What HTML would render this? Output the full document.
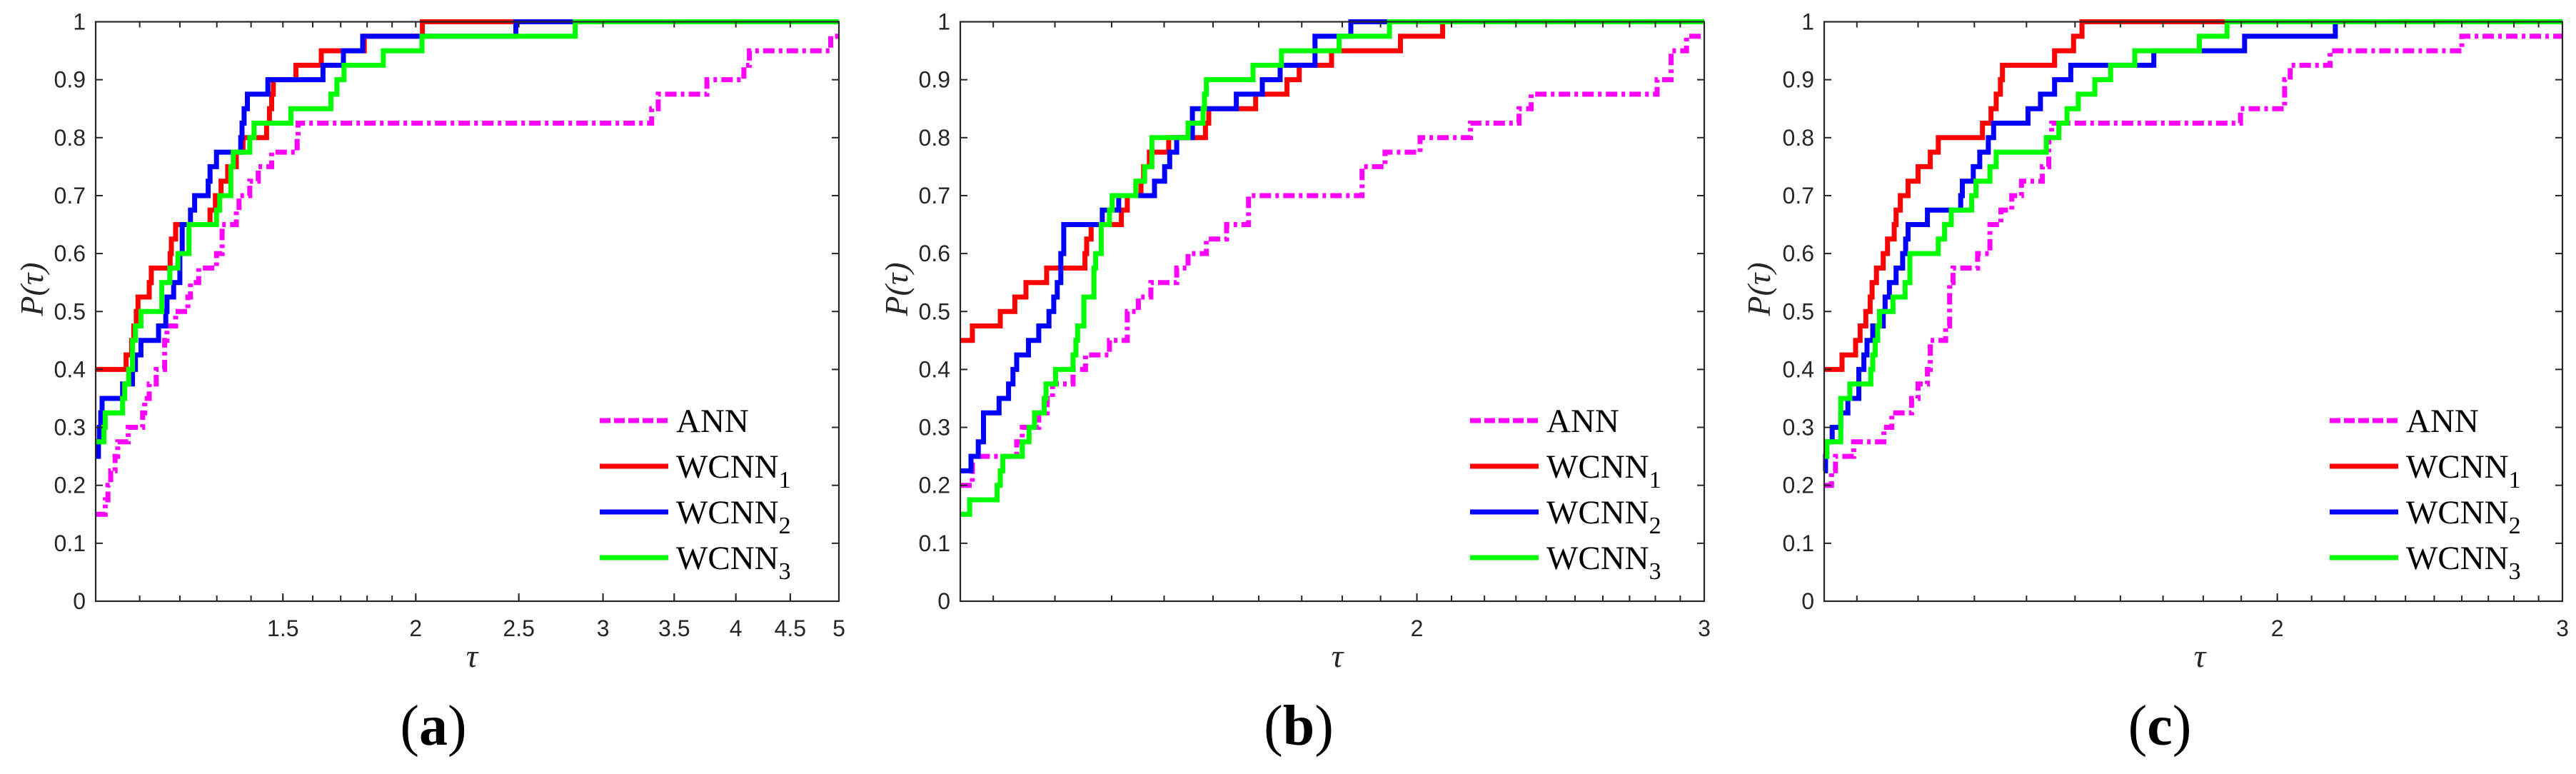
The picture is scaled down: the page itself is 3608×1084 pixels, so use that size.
<!DOCTYPE html>
<html><head><meta charset="utf-8">
<style>
html,body{margin:0;padding:0;background:#fff;}
svg{display:block;}
.tick{font-family:"Liberation Sans",sans-serif;font-size:32px;fill:#262626;}
.leg{font-family:"Liberation Serif",serif;font-size:47px;fill:#000;}
.lab{font-family:"Liberation Serif",serif;font-size:46px;font-style:italic;fill:#262626;}
.cap{font-family:"Liberation Serif",serif;font-size:80px;fill:#000;}
</style></head>
<body>
<svg id="fig" width="3608" height="1084" viewBox="0 0 3608 1084" xmlns="http://www.w3.org/2000/svg"></svg>
<script>
// ---- Panel (a) data ----
const aTauAnn=[1,1.021,1.027,1.033,1.043,1.049,1.073,1.107,1.112,1.123,1.140,1.161,1.167,1.189,1.221,1.228,1.250,1.299,1.315,1.356,1.364,1.396,1.422,1.464,1.547,1.550,3.333,3.381,3.757,4.070,4.119,4.912];
const aPAnn=[0.15,0.175,0.2,0.225,0.25,0.275,0.3,0.325,0.35,0.375,0.4,0.45,0.475,0.5,0.525,0.55,0.575,0.6,0.65,0.675,0.7,0.725,0.75,0.775,0.8,0.825,0.85,0.875,0.9,0.925,0.95,0.975];
const aTauW1=[1,1.068,1.081,1.086,1.092,1.096,1.123,1.128,1.175,1.178,1.189,1.281,1.296,1.312,1.331,1.356,1.376,1.448,1.457,1.464,1.469,1.543,1.630,1.789,2.029];
const aPW1=[0.4,0.425,0.45,0.475,0.5,0.525,0.55,0.575,0.6,0.625,0.65,0.675,0.7,0.725,0.75,0.775,0.8,0.825,0.85,0.875,0.9,0.925,0.95,0.975,1.0];
const aTauW2=[1,1.006,1.008,1.011,1.014,1.060,1.083,1.090,1.103,1.146,1.164,1.167,1.184,1.200,1.206,1.228,1.239,1.276,1.281,1.299,1.369,1.373,1.379,1.389,1.452,1.636,1.710,1.783,2.484];
const aPW2=[0.25,0.275,0.3,0.325,0.35,0.375,0.4,0.425,0.45,0.475,0.5,0.525,0.55,0.6,0.65,0.675,0.7,0.725,0.75,0.775,0.8,0.825,0.85,0.875,0.9,0.925,0.95,0.975,1.0];
const aTauW3=[1,1.018,1.021,1.060,1.065,1.074,1.083,1.090,1.103,1.154,1.174,1.195,1.224,1.299,1.308,1.340,1.347,1.396,1.409,1.526,1.664,1.686,1.712,1.864,2.027,2.825];
const aPW3=[0.275,0.3,0.325,0.35,0.375,0.4,0.45,0.475,0.5,0.55,0.575,0.6,0.65,0.675,0.7,0.75,0.775,0.8,0.825,0.85,0.875,0.9,0.925,0.95,0.975,1.0];
const aXTicks=[1.5,2,2.5,3,3.5,4,4.5,5];
const aXTickLabels=["1.5","2","2.5","3","3.5","4","4.5","5"];
// ---- Panel (b) data ----
const bTauAnn=[1.05,1.068,1.137,1.146,1.173,1.187,1.196,1.231,1.253,1.296,1.329,1.350,1.374,1.425,1.448,1.486,1.529,1.577,1.851,1.912,2.009,2.157,2.310,2.350,2.807,2.863,2.926];
const bPAnn=[0.2,0.25,0.275,0.3,0.325,0.35,0.375,0.4,0.425,0.45,0.5,0.525,0.55,0.575,0.6,0.625,0.65,0.7,0.75,0.775,0.8,0.825,0.85,0.875,0.9,0.95,0.975];
const bTauW1=[1.05,1.068,1.111,1.134,1.152,1.186,1.252,1.255,1.263,1.318,1.329,1.355,1.360,1.371,1.409,1.484,1.491,1.593,1.665,1.694,1.773,1.954,2.074];
const bPW1=[0.45,0.475,0.5,0.525,0.55,0.575,0.6,0.625,0.65,0.675,0.7,0.725,0.75,0.775,0.8,0.825,0.85,0.875,0.9,0.925,0.95,0.975,1.0];
const bTauW2=[1.05,1.066,1.077,1.085,1.109,1.124,1.131,1.137,1.156,1.173,1.190,1.198,1.204,1.210,1.215,1.283,1.313,1.381,1.401,1.411,1.425,1.457,1.550,1.608,1.649,1.732,1.822];
const bPW2=[0.225,0.25,0.275,0.325,0.35,0.375,0.4,0.425,0.45,0.475,0.5,0.525,0.55,0.6,0.65,0.675,0.7,0.725,0.75,0.775,0.8,0.85,0.875,0.9,0.925,0.975,1.0];
const bTauW3=[1.05,1.064,1.106,1.111,1.115,1.146,1.157,1.166,1.182,1.185,1.201,1.231,1.236,1.239,1.250,1.268,1.271,1.281,1.296,1.301,1.345,1.362,1.376,1.448,1.479,1.482,1.486,1.587,1.652,1.792,1.924];
const bPW3=[0.15,0.175,0.2,0.225,0.25,0.275,0.3,0.325,0.35,0.375,0.4,0.425,0.45,0.475,0.525,0.575,0.6,0.65,0.675,0.7,0.725,0.75,0.8,0.825,0.85,0.875,0.9,0.925,0.95,0.975,1.0];
const bXTicks=[2,3];
const bXTickLabels=["2","3"];
// ---- Panel (c) data ----
const cTauAnn=[1.05,1.061,1.067,1.095,1.143,1.156,1.189,1.200,1.216,1.221,1.248,1.255,1.261,1.306,1.329,1.350,1.371,1.390,1.432,1.445,1.451,1.898,2.021,2.037,2.156,2.600];
const cPAnn=[0.2,0.225,0.25,0.275,0.3,0.325,0.35,0.375,0.4,0.45,0.475,0.55,0.575,0.6,0.65,0.675,0.7,0.725,0.75,0.8,0.825,0.85,0.9,0.925,0.95,0.975];
const cTauW1=[1.05,1.077,1.098,1.105,1.114,1.121,1.124,1.131,1.142,1.149,1.160,1.163,1.170,1.183,1.200,1.221,1.235,1.315,1.331,1.341,1.349,1.353,1.457,1.497,1.515];
const cPW1=[0.4,0.425,0.45,0.475,0.5,0.525,0.55,0.575,0.6,0.625,0.65,0.675,0.7,0.725,0.75,0.775,0.8,0.825,0.85,0.875,0.9,0.925,0.95,0.975,1.0];
const cTauW2=[1.05,1.052,1.054,1.062,1.075,1.086,1.103,1.111,1.116,1.125,1.142,1.145,1.152,1.163,1.174,1.179,1.183,1.216,1.275,1.278,1.298,1.310,1.326,1.336,1.403,1.428,1.457,1.491,1.678,1.909,2.172];
const cPW2=[0.225,0.25,0.275,0.3,0.325,0.35,0.4,0.425,0.45,0.475,0.5,0.525,0.55,0.575,0.6,0.625,0.65,0.675,0.7,0.725,0.75,0.775,0.8,0.825,0.85,0.875,0.9,0.925,0.95,0.975,1.0];
const cTauW3=[1.05,1.054,1.075,1.089,1.122,1.125,1.129,1.133,1.136,1.158,1.178,1.186,1.235,1.246,1.258,1.295,1.303,1.329,1.341,1.440,1.466,1.483,1.507,1.543,1.578,1.633,1.790,1.862];
const cPW3=[0.25,0.275,0.35,0.375,0.4,0.425,0.45,0.475,0.5,0.525,0.55,0.6,0.625,0.65,0.675,0.7,0.725,0.75,0.775,0.8,0.825,0.85,0.875,0.9,0.925,0.95,0.975,1.0];
const cXTicks=[2,3];
const cXTickLabels=["2","3"];
const yTicks=[0,0.1,0.2,0.3,0.4,0.5,0.6,0.7,0.8,0.9,1];
const yTickLabels=["0","0.1","0.2","0.3","0.4","0.5","0.6","0.7","0.8","0.9","1"];
const seriesNames=["ANN","WCNN","WCNN","WCNN"];
const seriesSubs=["","1","2","3"];

const NS="http://www.w3.org/2000/svg";
const svg=document.getElementById('fig');
function mk(tag,attrs,parent){const e=document.createElementNS(NS,tag);for(const k in attrs)e.setAttribute(k,attrs[k]);(parent||svg).appendChild(e);return e;}

function drawPanel(p){
  const g=mk('g',{});
  
  
  const T=30.5,B=842;
  const xs=t=>p.L+(Math.log(t)-Math.log(p.x0))/(Math.log(p.x1)-Math.log(p.x0))*(p.R-p.L);
  const ys=v=>B-v*(B-T);
  const colors=["#ff00ff","#ff0000","#0000ff","#00ff00"];
  const keys=["ann","wcnn1","wcnn2","wcnn3"];
  p.series.forEach((s,i)=>{
    let d='M'+xs(s[0][0]).toFixed(1)+' '+ys(s[1][0]).toFixed(1);
    for(let k=1;k<s[0].length;k++){
      const x=xs(s[0][k]).toFixed(1);
      d+=' H'+x+' V'+ys(s[1][k]).toFixed(1);
    }
    d+=' H'+xs(p.x1).toFixed(1);
    const path=mk('path',{d:d,fill:'none',stroke:colors[i],'stroke-width':7,'stroke-linejoin':'miter'},g);
    if(i===0)path.setAttribute('stroke-dasharray','16 6 5 6');
    
    
  });
  const box=mk('rect',{x:p.L,y:T,width:p.R-p.L,height:B-T,fill:'none',stroke:'#262626','stroke-width':2.2},g);
  
  
  yTicks.forEach((v,i)=>{
    const y=ys(v);
    mk('line',{x1:p.L,x2:p.L+10,y1:y,y2:y,stroke:'#262626','stroke-width':2},g);
    mk('line',{x1:p.R,x2:p.R-10,y1:y,y2:y,stroke:'#262626','stroke-width':2},g);
    const t=mk('text',{x:p.L-14,y:y+11,'text-anchor':'end',class:'tick'},g);
    t.textContent=yTickLabels[i];
    
    
  });
  for(let v=Math.ceil(p.x0*10+1e-6)/10; v<p.x1-1e-6; v+=(v<2-1e-6?0.1:(p.x1>3.5?0.5:0.1))){
    const x=xs(v);
    if(x<=p.L+2)continue;
    mk('line',{x1:x,x2:x,y1:B,y2:B-8,stroke:'#262626','stroke-width':2},g);
    mk('line',{x1:x,x2:x,y1:T,y2:T+8,stroke:'#262626','stroke-width':2},g);
  }
  p.xt.forEach((v,i)=>{
    const x=xs(v);
    mk('line',{x1:x,x2:x,y1:B,y2:B-11,stroke:'#262626','stroke-width':2},g);
    const t=mk('text',{x:x,y:B+49,'text-anchor':'middle',class:'tick'},g);
    t.textContent=p.xtl[i];
    
    
  });
  const xl=mk('text',{x:p.tauX,y:934,'text-anchor':'middle',class:'lab'},g);
  xl.textContent='τ';
  
  
  const yl=mk('text',{x:0,y:0,'text-anchor':'middle',class:'lab',transform:'translate('+(p.yLabX)+',405) rotate(-90)'},g);
  yl.textContent='P(τ)';
  
  
  const legY=[589,653,717,781];
  legY.forEach((y,i)=>{
    const ln=mk('line',{x1:p.legX,x2:p.legX+96,y1:y,y2:y,stroke:colors[i],'stroke-width':7},g);
    if(i===0)ln.setAttribute('stroke-dasharray','15 5 15 5');
    
    
    const t=mk('text',{x:p.legX+107,y:y+16,class:'leg'},g);
    t.textContent=seriesNames[i];
    if(seriesSubs[i]){const s=mk('tspan',{dy:14,'font-size':34},t);s.textContent=seriesSubs[i];}
    
    
  });
  const c=mk('text',{x:p.capX,y:1043,'text-anchor':'middle',class:'cap'},g);
  c.appendChild(document.createTextNode('('));
  const bt=mk('tspan',{'font-weight':'bold'},c);bt.textContent=p.id;
  c.appendChild(document.createTextNode(')'));
  
  
}

drawPanel({id:'a',L:134,R:1175,x0:1,x1:5,xt:aXTicks,xtl:aXTickLabels,tauX:661,yLabX:60,legX:840,capX:607,
  series:[[aTauAnn,aPAnn],[aTauW1,aPW1],[aTauW2,aPW2],[aTauW3,aPW3]]});
drawPanel({id:'b',L:1345,R:2387,x0:1.05,x1:3,xt:bXTicks,xtl:bXTickLabels,tauX:1873,yLabX:1271,legX:2059,capX:1819,
  series:[[bTauAnn,bPAnn],[bTauW1,bPW1],[bTauW2,bPW2],[bTauW3,bPW3]]});
drawPanel({id:'c',L:2555,R:3589,x0:1.05,x1:3,xt:cXTicks,xtl:cXTickLabels,tauX:3081,yLabX:2479,legX:3263,capX:3025,
  series:[[cTauAnn,cPAnn],[cTauW1,cPW1],[cTauW2,cPW2],[cTauW3,cPW3]]});
</script>
</body></html>
